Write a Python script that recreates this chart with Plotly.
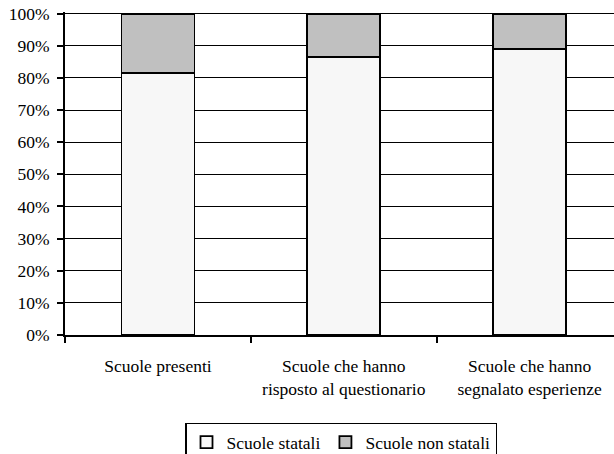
import plotly.graph_objects as go

categories = ["Scuole presenti",
              "Scuole che hanno<br>risposto al questionario",
              "Scuole che hanno<br>segnalato esperienze"]
statali = [81.6, 86.4, 89.0]
non_statali = [18.4, 13.6, 11.0]
y_ticks = [0, 10, 20, 30, 40, 50, 60, 70, 80, 90, 100]
y_tick_labels = [f"{v}%" for v in y_ticks]

FONT = "Liberation Serif, Times New Roman, serif"
FS = 17.5
W, H = 614, 454

fig = go.Figure()
fig.add_trace(go.Bar(x=categories, y=statali, name="Scuole statali",
                     marker=dict(color="#F7F7F7", line=dict(color="black", width=1.8))))
fig.add_trace(go.Bar(x=categories, y=non_statali, name="Scuole non statali",
                     marker=dict(color="#C0C0C0", line=dict(color="black", width=1.8))))

fig.update_layout(
    width=W, height=H,
    barmode="stack", bargap=0.607,
    margin=dict(l=64.5, r=0, t=11.9, b=118.5, autoexpand=False),
    paper_bgcolor="white", plot_bgcolor="white",
    font=dict(family=FONT, size=FS, color="black"),
    showlegend=True,
    legend=dict(orientation="h", xref="container", yref="container",
                x=341 / W, xanchor="center", y=1 - 422.7 / H, yanchor="top",
                bordercolor="black", borderwidth=1.5, bgcolor="white",
                font=dict(family=FONT, size=FS, color="black"),
                itemwidth=30, tracegroupgap=0, traceorder="normal"),
    xaxis=dict(type="category", range=[-0.5, 2.454], tickson="boundaries",
               ticks="outside", ticklen=6, tickwidth=1.5, tickcolor="black",
               showline=True, linecolor="black", linewidth=2,
               showgrid=False, zeroline=False, fixedrange=True,
               ticklabelstandoff=14, automargin=False),
    yaxis=dict(range=[0, 100.5], tickvals=y_ticks, ticktext=y_tick_labels,
               ticks="outside", ticklen=6, tickwidth=1.5, tickcolor="black",
               showline=True, linecolor="black", linewidth=2,
               showgrid=True, gridcolor="black", gridwidth=1,
               zeroline=False, fixedrange=True, ticklabelstandoff=4,
               automargin=False, ticklabeloverflow="allow"),
)

fig.write_html("out.html", config={"displayModeBar": False},
               post_script="document.body.style.margin='0';")
